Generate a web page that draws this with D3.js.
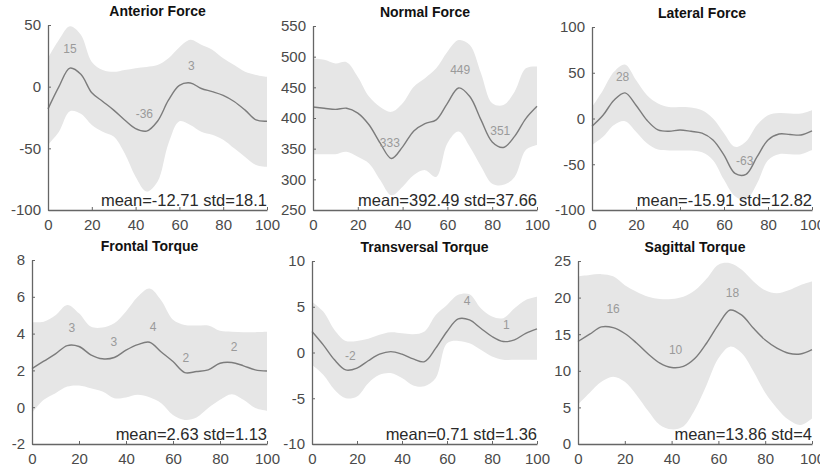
<!DOCTYPE html>
<html>
<head>
<meta charset="utf-8">
<script src="https://cdn.jsdelivr.net/npm/d3@7"></script>
<style>
  body { margin: 0; background: #fff; }
  svg { font-family: "Liberation Sans", Arial, sans-serif; }
</style>
</head>
<body>
<script>
// x positions (percent of cycle)
const xs = [0, 5, 10, 15, 20, 25, 30, 35, 40, 45, 50, 55, 60, 65, 70, 75, 80, 85, 90, 95, 100];

// Anterior Force
const anteriorMean  = [-18, 0, 15, 10, -5, -12, -19, -27, -34, -36, -28, -11, 1, 3, -1.5, -4, -7, -12, -19, -27, -28];
const anteriorUpper = [23, 38, 49, 42, 20, 13.5, 12, 13.5, 15, 16, 17.5, 23, 32, 38, 34, 30, 23, 17.5, 12, 9.5, 8];
const anteriorLower = [-47, -36.5, -20, -22, -31, -36.5, -40.5, -54, -73, -85, -77, -46, -28, -31, -36.5, -39, -43, -50, -57, -63.5, -65];
const anteriorLabels = [[10, 31, "15"], [44, -22, "-36"], [65.5, 17, "3"]];

// Normal Force
const normalMean  = [418, 416, 414, 416, 408, 389, 359, 334, 353, 379, 391, 397, 424, 449, 435, 397, 361, 352, 370, 399, 419];
const normalUpper = [497, 495, 489, 491, 467, 435, 418, 410, 424, 451, 465, 481, 508, 527, 519, 473, 424, 421, 443, 481, 484];
const normalLower = [341, 341, 341, 345, 337, 326, 299, 274, 288, 307, 315, 304, 359, 378, 353, 321, 293, 291, 304, 348, 356];
const normalLabels = [[34.3, 360, "333"], [65.7, 478, "449"], [83.6, 379, "351"]];

// Lateral Force
const lateralMean  = [-8.5, 3.5, 20, 28, 14.5, -2, -12.5, -14, -12.5, -14, -16, -23.5, -40, -60, -61, -42, -23.5, -17, -17.5, -18, -13.5];
const lateralUpper = [12.5, 31, 51, 59, 42, 25.5, 16.5, 12.5, 12.5, 12, 9, 0, -16, -31, -25, -7, 3.5, 6, 5.5, 5.5, 9];
const lateralLower = [-29, -20, -7, -3, -14.5, -27, -34, -35, -35, -35, -37, -45.5, -67, -85, -89, -71, -45.5, -39, -39, -39, -34.5];
const lateralLabels = [[13.9, 46, "28"], [69.4, -46.5, "-63"]];

// Frontal Torque
const frontalMean  = [2.1, 2.5, 2.9, 3.35, 3.3, 2.85, 2.63, 2.7, 3.1, 3.4, 3.53, 3.0, 2.48, 1.88, 1.94, 2.03, 2.39, 2.43, 2.25, 2.03, 1.97];
const frontalUpper = [4.62, 4.65, 5.0, 5.56, 5.1, 4.38, 4.33, 4.56, 5.2, 6.0, 6.45, 5.8, 4.75, 4.47, 4.44, 4.44, 4.15, 4.1, 4.08, 4.08, 4.1];
const frontalLower = [-0.33, 0.4, 0.76, 1.12, 1.18, 1.03, 0.85, 0.49, 0.53, 0.67, 0.54, 0.22, -0.42, -0.69, -0.56, -0.05, 0.4, 0.71, 0.4, -0.05, -0.2];
const frontalLabels = [[17, 4.3, "3"], [34.8, 3.53, "3"], [51.5, 4.38, "4"], [65.5, 2.7, "2"], [86, 3.3, "2"]];

// Transversal Torque
const transversalMean  = [2.3, 0.84, -0.8, -1.9, -1.7, -0.9, -0.18, 0.1, -0.18, -0.7, -1.0, 0.47, 2.3, 3.67, 3.56, 2.65, 1.75, 1.2, 1.38, 2.1, 2.58];
const transversalUpper = [5.56, 4.47, 2.47, 1.27, 1.27, 1.5, 1.93, 2.2, 2.1, 2.0, 2.3, 4.1, 5.2, 6.3, 6.36, 4.84, 3.93, 3.75, 4.84, 5.75, 6.1];
const transversalLower = [-1.35, -2.44, -4.07, -5.0, -4.8, -3.35, -2.44, -2.25, -2.8, -3.6, -3.7, -2.8, 1.0, 1.27, 1.0, 0.29, -0.44, -0.8, -0.8, -0.8, -0.8];
const transversalLabels = [[17, -0.33, "-2"], [68.9, 5.64, "4"], [86.4, 3.0, "1"]];

// Sagittal Torque
const sagittalMean  = [14.0, 15.0, 16.0, 15.9, 15.1, 13.8, 12.3, 11.05, 10.45, 10.6, 11.7, 13.8, 16.3, 18.3, 17.6, 15.8, 14.2, 13.1, 12.4, 12.3, 12.9];
const sagittalUpper = [22.9, 23.1, 23.2, 22.9, 21.7, 20.8, 20.1, 19.8, 19.8, 20.1, 21.0, 22.6, 24.5, 24.7, 23.8, 22.2, 21.0, 20.6, 21.0, 21.7, 22.2];
const sagittalLower = [5.4, 7.0, 8.5, 9.2, 8.5, 6.7, 4.5, 2.6, 2.0, 2.4, 4.7, 8.1, 11.7, 13.3, 12.4, 9.9, 7.0, 4.9, 3.3, 2.6, 3.5];
const sagittalLabels = [[15, 18.45, "16"], [41.7, 12.9, "10"], [66, 20.7, "18"]];

const xTicks = [0, 20, 40, 60, 80, 100];

const panels = [
  { title: "Anterior Force", mean: anteriorMean, upper: anteriorUpper, lower: anteriorLower,
    yDomain: [-100, 50], yTicks: [-100, -50, 0, 50], labels: anteriorLabels,
    stats: "mean=-12.71 std=18.1", box: [48, 267, 25, 210] },
  { title: "Normal Force", mean: normalMean, upper: normalUpper, lower: normalLower,
    yDomain: [250, 550], yTicks: [250, 300, 350, 400, 450, 500, 550], labels: normalLabels,
    stats: "mean=392.49 std=37.66", box: [313, 537, 26, 210] },
  { title: "Lateral Force", mean: lateralMean, upper: lateralUpper, lower: lateralLower,
    yDomain: [-100, 100], yTicks: [-100, -50, 0, 50, 100], labels: lateralLabels,
    stats: "mean=-15.91 std=12.82", box: [592, 812, 27, 210] },
  { title: "Frontal Torque", mean: frontalMean, upper: frontalUpper, lower: frontalLower,
    yDomain: [-2, 8], yTicks: [-2, 0, 2, 4, 6, 8], labels: frontalLabels,
    stats: "mean=2.63 std=1.13", box: [32, 267, 260, 444] },
  { title: "Transversal Torque", mean: transversalMean, upper: transversalUpper, lower: transversalLower,
    yDomain: [-10, 10], yTicks: [-10, -5, 0, 5, 10], labels: transversalLabels,
    stats: "mean=0.71 std=1.36", box: [312, 537, 261, 444] },
  { title: "Sagittal Torque", mean: sagittalMean, upper: sagittalUpper, lower: sagittalLower,
    yDomain: [0, 25], yTicks: [0, 5, 10, 15, 20, 25], labels: sagittalLabels,
    stats: "mean=13.86 std=4", box: [578, 812, 261, 444] }
];

const svg = d3.select("body")
  .append("svg")
  .attr("width", 820)
  .attr("height", 475);

panels.forEach((p, k) => {
  const [l, r, t, b] = p.box;
  const x = d3.scaleLinear().domain([0, 100]).range([l, r]);
  const y = d3.scaleLinear().domain(p.yDomain).range([b, t]);
  const g = svg.append("g");

  const clipId = "clip" + k;
  g.append("clipPath").attr("id", clipId)
    .append("rect").attr("x", l).attr("y", t).attr("width", r - l).attr("height", b - t);

  const band = d3.area()
    .x((d, i) => x(xs[i]))
    .y0((d, i) => y(p.lower[i]))
    .y1((d, i) => y(p.upper[i]))
    .curve(d3.curveCatmullRom.alpha(0.5));

  g.append("path")
    .datum(p.upper)
    .attr("clip-path", `url(#${clipId})`)
    .attr("d", band)
    .attr("fill", "#e6e6e6");

  const line = d3.line()
    .x((d, i) => x(xs[i]))
    .y(d => y(d))
    .curve(d3.curveCatmullRom.alpha(0.5));

  g.append("path")
    .datum(p.mean)
    .attr("d", line)
    .attr("fill", "none")
    .attr("stroke", "#7c7c7c")
    .attr("stroke-width", 1.4);

  g.selectAll(".lab")
    .data(p.labels)
    .enter()
    .append("text")
    .attr("x", d => x(d[0]))
    .attr("y", d => y(d[1]))
    .attr("dy", "0.35em")
    .attr("text-anchor", "middle")
    .attr("font-size", 12)
    .attr("fill", "#9a9a9a")
    .text(d => d[2]);

  // plain hyphen minus, like the original figure
  const fmt = d => String(d);
  const xAxis = d3.axisBottom(x).tickValues(xTicks).tickFormat(fmt)
    .tickSizeInner(-3).tickSizeOuter(0).tickPadding(9);
  const yAxis = d3.axisLeft(y).tickValues(p.yTicks).tickFormat(fmt)
    .tickSizeInner(-3).tickSizeOuter(0).tickPadding(7);

  const gx = g.append("g")
    .attr("transform", "translate(0," + b + ")")
    .call(xAxis);
  const gy = g.append("g")
    .attr("transform", "translate(" + l + ",0)")
    .call(yAxis);

  [gx, gy].forEach(a => {
    a.select(".domain").attr("stroke", "#666").attr("stroke-width", 1.3);
    a.selectAll(".tick line").attr("stroke", "#666");
    a.selectAll(".tick text")
      .attr("font-size", 15)
      .attr("fill", "#4a4a4a")
      .attr("font-family", "Liberation Sans, Arial, sans-serif");
  });

  g.append("text")
    .attr("x", (l + r) / 2)
    .attr("y", t - 9)
    .attr("text-anchor", "middle")
    .attr("font-size", 14)
    .attr("font-weight", "bold")
    .attr("fill", "#111")
    .text(p.title);

  g.append("text")
    .attr("x", r)
    .attr("y", b - 4)
    .attr("text-anchor", "end")
    .attr("font-size", 16.5)
    .attr("fill", "#2a2a2a")
    .text(p.stats);
});
</script>
</body>
</html>
